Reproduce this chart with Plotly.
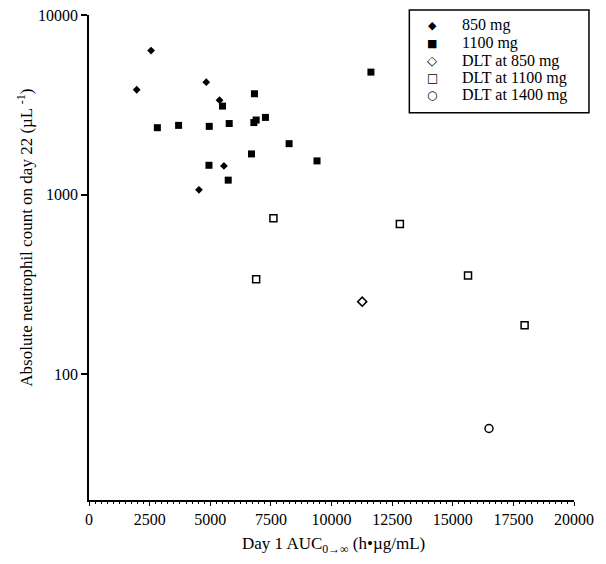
import plotly.graph_objects as go

# ---- data ----
auc_850 = [2560, 1967, 4835, 5383, 5564, 4535]
anc_850 = [6340, 3837, 4227, 3358, 1445, 1064]

auc_1100 = [5506, 6823, 2819, 3695, 4959, 5782, 6798, 6893, 7276, 8251, 6700, 9403, 4947, 5741, 11626]
anc_1100 = [3112, 3645, 2360, 2431, 2400, 2489, 2520, 2604, 2692, 1923, 1686, 1542, 1458, 1205, 4810]

auc_dlt_850 = [11267]
anc_dlt_850 = [254]

auc_dlt_1100 = [7605, 12819, 6893, 15630, 17963]
anc_dlt_1100 = [739, 686, 338, 355, 188]

auc_dlt_1400 = [16494]
anc_dlt_1400 = [50]

series_names = ["850 mg", "1100 mg", "DLT at 850 mg", "DLT at 1100 mg", "DLT at 1400 mg"]
legend_glyphs = ["\u25C6", "\u25A0", "\u25C7", "\u25A1", "\u25CB"]

x_ticks = [0, 2500, 5000, 7500, 10000, 12500, 15000, 17500, 20000]
y_ticks = [100, 1000, 10000]

FONT = "Liberation Serif, Times New Roman, serif"

# page offset (default body margin of the html page)
OFF = 8
W, H = 606 - OFF, 564 - OFF
# plot area in page pixels
L, R, T, B = 88.5, 574.5, 14.5, 500.5


def px_x(p):
    return (p - L) / (R - L)


def px_y(p):
    return (B - p) / (B - T)


fig = go.Figure()
fig.add_trace(go.Scatter(x=auc_850, y=anc_850, mode="markers", name=series_names[0],
                         marker=dict(symbol="diamond", size=6, color="black", line=dict(width=0))))
fig.add_trace(go.Scatter(x=auc_1100, y=anc_1100, mode="markers", name=series_names[1],
                         marker=dict(symbol="square", size=7, color="black", line=dict(width=0))))
fig.add_trace(go.Scatter(x=auc_dlt_850, y=anc_dlt_850, mode="markers", name=series_names[2],
                         marker=dict(symbol="diamond-open", size=7, color="black", line=dict(width=1.5, color="black"))))
fig.add_trace(go.Scatter(x=auc_dlt_1100, y=anc_dlt_1100, mode="markers", name=series_names[3],
                         marker=dict(symbol="square-open", size=7, color="black", line=dict(width=1.5, color="black"))))
fig.add_trace(go.Scatter(x=auc_dlt_1400, y=anc_dlt_1400, mode="markers", name=series_names[4],
                         marker=dict(symbol="circle-open", size=8, color="black", line=dict(width=1.5, color="black"))))

annotations = []
# legend labels and glyphs
row_y = [25, 42.7, 60.5, 77.5, 94.5]
glyph_sizes = [11, 11, 13, 12, 12]
for name, glyph, gy, gs in zip(series_names, legend_glyphs, row_y, glyph_sizes):
    annotations.append(dict(xref="paper", yref="paper", x=px_x(432.5), y=px_y(gy), text=glyph,
                            showarrow=False, xanchor="center", yanchor="middle",
                            font=dict(family="DejaVu Sans", size=gs, color="black")))
    annotations.append(dict(xref="paper", yref="paper", x=px_x(460), y=px_y(gy), text=name,
                            showarrow=False, xanchor="left", yanchor="middle",
                            font=dict(family=FONT, size=16, color="black")))

# axis titles
annotations.append(dict(xref="paper", yref="paper", x=px_x(334), y=px_y(546), text="Day 1 AUC<sub>0\u2192\u221E</sub> (h\u2022\u00B5g/mL)",
                        showarrow=False, xanchor="center", yanchor="middle",
                        font=dict(family=FONT, size=17, color="black")))
annotations.append(dict(xref="paper", yref="paper", x=px_x(24), y=px_y(238),
                        text="Absolute neutrophil count on day 22 (\u00B5L <sup>-1</sup>)",
                        showarrow=False, xanchor="center", yanchor="middle", textangle=-90,
                        font=dict(family=FONT, size=17, color="black")))

shapes = [dict(type="rect", xref="paper", yref="paper", x0=px_x(409.5), x1=px_x(589.5),
               y0=px_y(112.5), y1=px_y(9.5), line=dict(color="black", width=1.5), fillcolor="rgba(0,0,0,0)")]

fig.update_layout(
    width=W, height=H,
    margin=dict(l=L - OFF, r=W - (R - OFF), t=T - OFF, b=H - (B - OFF), pad=0, autoexpand=False),
    paper_bgcolor="white", plot_bgcolor="white",
    showlegend=False,
    font=dict(family=FONT, size=16, color="black"),
    annotations=annotations,
    shapes=shapes,
    xaxis=dict(range=[0, 20000], tickvals=x_ticks, ticktext=[str(v) for v in x_ticks],
               showgrid=False, zeroline=False, showline=True, linecolor="black", linewidth=1.5,
               ticks="outside", ticklen=4, tickwidth=1.2, tickcolor="black",
               minor=dict(dtick=250, ticks="outside", ticklen=2.5, tickwidth=1, tickcolor="black", showgrid=False),
               tickfont=dict(family=FONT, size=16, color="black"), fixedrange=True,
               ticklabeloverflow="allow", automargin=False),
    yaxis=dict(type="log", range=[1.301, 4], tickvals=y_ticks, ticktext=[str(v) for v in y_ticks],
               showgrid=False, zeroline=False, showline=True, linecolor="black", linewidth=1.5,
               ticks="outside", ticklen=6, tickwidth=1.5, tickcolor="black",
               tickfont=dict(family=FONT, size=16, color="black"), fixedrange=True,
               ticklabeloverflow="allow", automargin=False),
)

fig.write_html("out.html", config={"displayModeBar": False})
